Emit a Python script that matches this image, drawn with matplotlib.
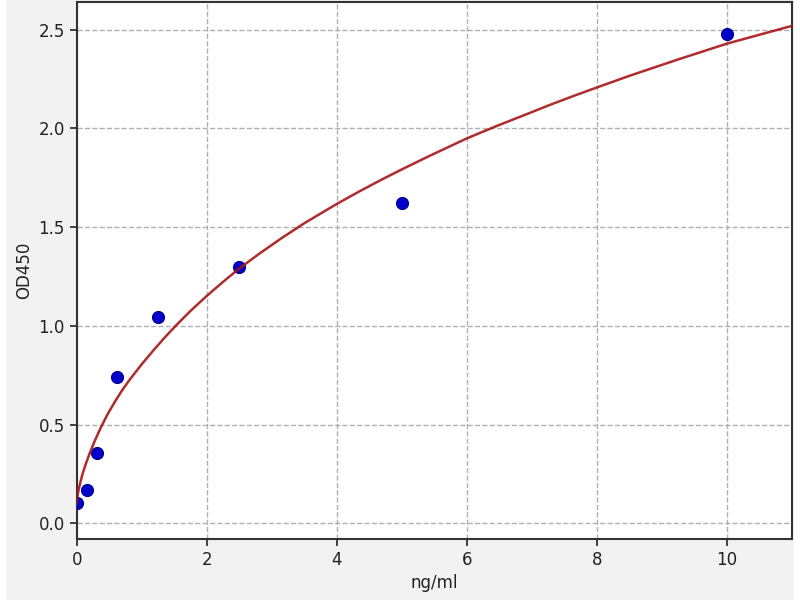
import matplotlib
matplotlib.use("Agg")
import matplotlib.pyplot as plt
from matplotlib.patches import Rectangle

# standards (ng/ml) and measured OD450
conc = [0, 0.156, 0.3125, 0.625, 1.25, 2.5, 5, 10]
od = [0.101, 0.169, 0.355, 0.743, 1.047, 1.297, 1.621, 2.480]

# fitted curve
curve_x = [0, 0.002, 0.005, 0.01, 0.02, 0.03, 0.04, 0.06, 0.08, 0.1, 0.15, 0.2, 0.28,
           0.37, 0.47, 0.585, 0.7, 0.815, 1.0, 1.2, 1.35, 1.52, 1.75, 2.0, 2.25, 2.5,
           2.8, 3.17, 3.5, 4.0, 4.35, 4.7, 5.0, 5.43, 6.0, 6.46, 6.9, 7.28, 7.65, 8.0,
           8.51, 9.25, 10.0, 11.0]
curve_y = [0.10, 0.111, 0.121, 0.134, 0.155, 0.172, 0.187, 0.214, 0.239, 0.262,
           0.311, 0.356, 0.42, 0.485, 0.55, 0.615, 0.675, 0.728, 0.806, 0.884, 0.940,
           1.0, 1.076, 1.152, 1.223, 1.291, 1.364, 1.449, 1.52, 1.618, 1.682, 1.743,
           1.793, 1.862, 1.95, 2.013, 2.07, 2.12, 2.166, 2.208, 2.268, 2.35, 2.43, 2.52]

plt.rcParams['font.family'] = 'DejaVu Sans'
plt.rcParams['font.size'] = 12

fig = plt.figure(figsize=(8, 6), dpi=100, facecolor='#f2f2f2')
ax = fig.add_axes([0.096, 0.1017, 0.894, 0.895])
ax.set_facecolor('white')

ax.scatter(conc, od, s=75, color='#0000cc', edgecolors='#00008b', linewidths=0.8, zorder=3)
ax.plot(curve_x, curve_y, color='#a81414', linewidth=1.8, alpha=0.9, zorder=4,
        solid_joinstyle='round')

ax.set_xlim(0, 11)
ax.set_ylim(-0.08, 2.641)
ax.set_xticks([0, 2, 4, 6, 8, 10])
ax.set_yticks([0.0, 0.5, 1.0, 1.5, 2.0, 2.5])

ax.grid(True, linestyle='--', color='#b0b0b0', linewidth=1.0)
ax.set_axisbelow(True)
for s in ax.spines.values():
    s.set_color('#333333')
    s.set_linewidth(1.5)
ax.tick_params(length=5, width=1.2, colors='#222222')

ax.set_xlabel('ng/ml', color='#222222')
ax.set_ylabel('OD450', color='#222222')

# thin white borders at the sides of the image
fig.add_artist(Rectangle((0, 0), 5 / 800, 1, transform=fig.transFigure, color='white', zorder=0))
fig.add_artist(Rectangle((794 / 800, 0), 6 / 800, 1, transform=fig.transFigure, color='white', zorder=0))

fig.savefig('out.png', dpi=100, facecolor=fig.get_facecolor())
